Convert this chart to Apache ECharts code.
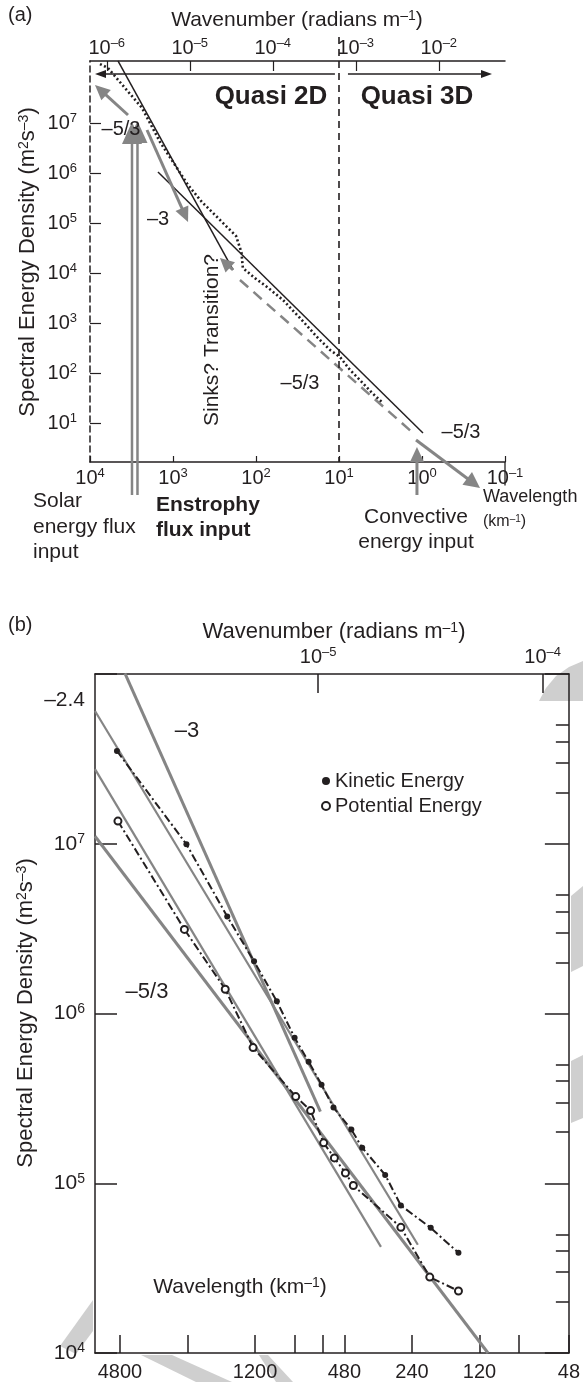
<!DOCTYPE html>
<html>
<head>
<meta charset="utf-8">
<script src="https://cdn.jsdelivr.net/npm/echarts@6.0.0/dist/echarts.min.js"></script>
<style>
  html, body { margin: 0; padding: 0; background: #fff; }
  #chart { width: 583px; height: 1382px; }
</style>
</head>
<body>
<div id="chart"></div>
<script>
// ---- panel (a): measured spectrum (wavelength km, energy m2 s-3)
const aLam = [7586, 6067, 3784, 2360, 1435, 946, 659, 448, 312, 217, 174, 150, 144, 103, 73.6, 47.3, 29.5, 18.4, 12.8, 9.73, 7.36, 5.58, 4.0, 2.95];
const aEnergy = [1.51e8, 1.26e8, 5.0e7, 2.0e7, 4.17e6, 1.45e6, 5.75e5, 2.63e5, 1.45e5, 7.9e4, 5.5e4, 2.6e4, 1.26e4, 7.9e3, 5.25e3, 2.88e3, 1.26e3, 525, 288, 209, 115, 72, 40, 25];
// reference slopes drawn in (a)
const aSteepLam = [4603, 189];
const aSteepE = [1.74e8, 1.15e4];
const aFiveThirdLam = [1517, 0.973];
const aFiveThirdE = [1.05e6, 6.3];
const aDashedLam = [156, 1.28];
const aDashedE = [7244, 6.3];
const aTickExp = [4, 3, 2, 1, 0, -1];
const aTopExp = [-6, -5, -4, -3, -2];
const aLeftExp = [1, 2, 3, 4, 5, 6, 7];

// ---- panel (b): kinetic and potential energy spectra
const bKeLam = [4950, 2427, 1597, 1213, 960, 800, 693, 607, 537, 447, 400, 316, 269, 198, 149];
const bKeE = [3.52e7, 9.93e6, 3.73e6, 2.03e6, 1.18e6, 7.2e5, 5.2e5, 3.81e5, 2.79e5, 2.07e5, 1.62e5, 1.12e5, 7.4e4, 5.46e4, 3.89e4];
const bPeLam = [4900, 2478, 1630, 1225, 791, 679, 594, 532, 475, 438, 269, 200, 149];
const bPeE = [1.36e7, 3.13e6, 1.39e6, 6.3e5, 3.24e5, 2.68e5, 1.73e5, 1.41e5, 1.15e5, 9.7e4, 5.5e4, 2.8e4, 2.32e4];
const bFitSteepLam = [4560, 614];
const bFitSteepE = [1.01e8, 2.64e5];
const bFitLongLam = [6200, 110];
const bFitLongE = [1.107e7, 1e4];
const bFitMidLam = [6200, 330];
const bFitMidE = [2.75e7, 4.22e4];
const bFitKeLam = [6200, 226];
const bFitKeE = [6.05e7, 4.34e4];
const bTickLam = [4800, 2400, 1200, 800, 600, 480, 240, 120, 80, 48];
const bLabelLam = [4800, 1200, 480, 240, 120, 48];
const bMajorExp = [4, 5, 6, 7, 8];
const bLabelExp = [4, 5, 6, 7];
const bMinorE = [2e4, 3e4, 4e4, 5e4, 2e5, 3e5, 4e5, 5e5, 2e6, 3e6, 4e6, 5e6, 2e7, 3e7, 4e7, 5e7];
const bTopExp = [-5, -4];

const FONT = '"Liberation Sans", Arial, sans-serif';
const INK = '#231f20';
const GREY = '#858585';
const LIGHT = '#cfcfcf';
const lg = Math.log10;
const TWO_PI_LOG = lg(2 * Math.PI) - 3; // k (rad/m) = 2pi / (lambda km * 1000)

function pts(lams, es) { return lams.map((l, i) => [lg(l), lg(es[i])]); }
function expText(v) { v = Math.round(v); return v < 0 ? '\u2013' + (-v) : String(v); }
function powLabel(v) { return '{b|10}{s|' + expText(v) + '}'; }
function rich(size, sup) {
  return {
    b: { fontSize: size, fontFamily: FONT, color: INK, lineHeight: size + 2 },
    s: { fontSize: sup, fontFamily: FONT, color: INK, lineHeight: sup, verticalAlign: 'top' }
  };
}

const chart = echarts.init(document.getElementById('chart'));

const frame = { onZero: false, lineStyle: { color: INK, width: 1.5 } };
const noSplit = { show: false };

const option = {
  animation: false,
  backgroundColor: '#fff',
  textStyle: { fontFamily: FONT, color: INK },
  grid: [
    { left: 90, right: 78, top: 61, bottom: 920 },
    { left: 95, right: 11, top: 674, bottom: 29 }
  ],
  legend: {
    orient: 'vertical',
    left: 316,
    top: 766,
    itemWidth: 8,
    itemHeight: 8,
    itemGap: 5,
    textStyle: { fontSize: 20, fontFamily: FONT, color: INK },
    data: [
      { name: 'Kinetic Energy', icon: 'circle' },
      { name: 'Potential Energy', icon: 'emptyCircle' }
    ]
  },
  xAxis: [
    {
      type: 'value', gridIndex: 0, min: -1, max: 4, inverse: true, position: 'bottom',
      axisLine: frame,
      axisTick: { inside: true, length: 6, customValues: aTickExp, lineStyle: { color: INK, width: 1.2 } },
      axisLabel: { customValues: aTickExp, margin: 5, formatter: powLabel, rich: rich(20, 13) },
      splitLine: noSplit
    },
    {
      type: 'value', gridIndex: 0, position: 'top',
      min: TWO_PI_LOG - 4, max: TWO_PI_LOG + 1,
      axisLine: frame,
      axisTick: { inside: true, length: 10, customValues: aTopExp, lineStyle: { color: INK, width: 1.2 } },
      axisLabel: { customValues: aTopExp, margin: 2, formatter: powLabel, rich: rich(20, 13) },
      splitLine: noSplit
    },
    {
      type: 'value', gridIndex: 1, min: lg(48), max: lg(6200), inverse: true, position: 'bottom',
      axisLine: frame,
      axisTick: { inside: true, length: 18, customValues: bTickLam.map(lg), lineStyle: { color: INK, width: 1.5 } },
      axisLabel: {
        customValues: bLabelLam.map(lg), margin: 9, fontSize: 20, fontFamily: FONT, color: INK,
        formatter: v => String(Math.round(Math.pow(10, v)))
      },
      splitLine: noSplit
    },
    {
      type: 'value', gridIndex: 1, position: 'top',
      min: TWO_PI_LOG - lg(6200), max: TWO_PI_LOG - lg(48),
      axisLine: frame,
      axisTick: { inside: true, length: 19, customValues: bTopExp, lineStyle: { color: INK, width: 1.5 } },
      axisLabel: { customValues: bTopExp, margin: 6, formatter: powLabel, rich: rich(20, 13) },
      splitLine: noSplit
    }
  ],
  yAxis: [
    {
      type: 'value', gridIndex: 0, min: 0.22, max: 8.24,
      axisLine: { show: true, onZero: false, lineStyle: { color: INK, width: 1.5, type: [6, 4] } },
      axisTick: { inside: true, length: 11, customValues: aLeftExp, lineStyle: { color: INK, width: 1.2 } },
      axisLabel: { customValues: aLeftExp, margin: 13, formatter: powLabel, rich: rich(20, 13) },
      splitLine: noSplit
    },
    {
      type: 'value', gridIndex: 1, min: 4, max: 8,
      axisLine: { show: true, onZero: false, lineStyle: { color: INK, width: 1.5 } },
      axisTick: { inside: true, length: 22, customValues: bMajorExp, lineStyle: { color: INK, width: 1.5 } },
      axisLabel: { customValues: bLabelExp, margin: 10, formatter: powLabel, rich: rich(21, 14) },
      splitLine: noSplit
    },
    {
      type: 'value', gridIndex: 1, min: 4, max: 8,
      axisLine: { show: false, onZero: false },
      axisTick: { inside: true, length: 13, customValues: bMinorE.map(lg), lineStyle: { color: INK, width: 1.5 } },
      axisLabel: { show: false },
      splitLine: noSplit
    },
    {
      type: 'value', gridIndex: 1, min: 4, max: 8, position: 'right',
      axisLine: { show: true, onZero: false, lineStyle: { color: INK, width: 1.5 } },
      axisTick: { inside: true, length: 24, customValues: bMajorExp, lineStyle: { color: INK, width: 1.5 } },
      axisLabel: { show: false },
      splitLine: noSplit
    },
    {
      type: 'value', gridIndex: 1, min: 4, max: 8, position: 'right',
      axisLine: { show: false, onZero: false },
      axisTick: { inside: true, length: 13, customValues: bMinorE.map(lg), lineStyle: { color: INK, width: 1.5 } },
      axisLabel: { show: false },
      splitLine: noSplit
    }
  ],
  series: [
    {
      name: 'spectrum', type: 'line', xAxisIndex: 0, yAxisIndex: 0, symbol: 'none', z: 4,
      lineStyle: { color: INK, width: 2.6, type: [2, 2.5] },
      data: pts(aLam, aEnergy)
    },
    {
      name: 'slope -3', type: 'line', xAxisIndex: 0, yAxisIndex: 0, symbol: 'none',
      lineStyle: { color: INK, width: 1.5 }, data: pts(aSteepLam, aSteepE)
    },
    {
      name: 'slope -5/3', type: 'line', xAxisIndex: 0, yAxisIndex: 0, symbol: 'none',
      lineStyle: { color: INK, width: 1.5 }, data: pts(aFiveThirdLam, aFiveThirdE)
    },
    {
      name: 'dashed -5/3', type: 'line', xAxisIndex: 0, yAxisIndex: 0, symbol: 'none',
      lineStyle: { color: GREY, width: 2.5, type: [11, 7] }, data: pts(aDashedLam, aDashedE)
    },
    {
      name: 'fit -3', type: 'line', xAxisIndex: 2, yAxisIndex: 1, symbol: 'none',
      lineStyle: { color: GREY, width: 3 }, data: pts(bFitSteepLam, bFitSteepE)
    },
    {
      name: 'fit -5/3', type: 'line', xAxisIndex: 2, yAxisIndex: 1, symbol: 'none',
      lineStyle: { color: GREY, width: 3 }, data: pts(bFitLongLam, bFitLongE)
    },
    {
      name: 'fit PE', type: 'line', xAxisIndex: 2, yAxisIndex: 1, symbol: 'none',
      lineStyle: { color: GREY, width: 2.2 }, data: pts(bFitMidLam, bFitMidE)
    },
    {
      name: 'fit KE', type: 'line', xAxisIndex: 2, yAxisIndex: 1, symbol: 'none',
      lineStyle: { color: GREY, width: 2.2 }, data: pts(bFitKeLam, bFitKeE)
    },
    {
      name: 'Kinetic Energy', type: 'line', xAxisIndex: 2, yAxisIndex: 1, z: 5,
      symbol: 'circle', symbolSize: 6, itemStyle: { color: INK },
      lineStyle: { color: INK, width: 2, type: [8, 3, 2, 3] }, data: pts(bKeLam, bKeE)
    },
    {
      name: 'Potential Energy', type: 'line', xAxisIndex: 2, yAxisIndex: 1, z: 5,
      symbol: 'emptyCircle', symbolSize: 7, itemStyle: { color: INK, borderWidth: 1.6 },
      lineStyle: { color: INK, width: 2, type: [8, 3, 2, 3] }, data: pts(bPeLam, bPeE)
    }
  ]
};

chart.setOption(option);

// ---- annotations: arrows are given in data coordinates [wavelength km, energy]
const annotArrows = [
  { from: [3483, 1.445e7], to: [8710, 5.75e7], color: GREY, width: 3, head: 15, half: 7 },
  { from: [2056, 7.24e6], to: [659, 1.05e5], color: GREY, width: 3, head: 15, half: 7 },
  { from: [189, 1.15e4], to: [272, 2.0e4], color: GREY, width: 3, head: 14, half: 7 },
  { from: [3119, 0.363], to: [3119, 1.05e7], color: GREY, width: 2.5, head: 22, half: 10 },
  { from: [2679, 0.363], to: [2679, 1.1e7], color: GREY, width: 2.5, head: 22, half: 10 },
  { from: [1.15, 0.363], to: [1.15, 3.3], color: GREY, width: 3, head: 15, half: 7 },
  { from: [1.18, 4.57], to: [0.2, 0.5], color: GREY, width: 3, head: 16, half: 8 },
  { from: [11.2, 9.55e7], to: [8710, 9.55e7], color: INK, width: 1.3, head: 11, half: 4 },
  { from: [7.8, 9.55e7], to: [0.1435, 9.55e7], color: INK, width: 1.3, head: 11, half: 4 }
];
const transitionLam = 10;
const transitionE = [5.25e8, Math.pow(10, 0.22)];
const endTickLam = 0.1;
const endTickE = [0.56, Math.pow(10, 0.22)];

const toA = p => chart.convertToPixel({ xAxisIndex: 0, yAxisIndex: 0 }, [lg(p[0]), lg(p[1])]);

function arrowEls(p0, p1, color, lw, headLen, half) {
  const dx = p1[0] - p0[0], dy = p1[1] - p0[1];
  const len = Math.hypot(dx, dy);
  const ux = dx / len, uy = dy / len;
  const bx = p1[0] - ux * headLen, by = p1[1] - uy * headLen;
  return [
    { type: 'line', z: 50, shape: { x1: p0[0], y1: p0[1], x2: bx + ux, y2: by + uy }, style: { stroke: color, lineWidth: lw } },
    { type: 'polygon', z: 50, shape: { points: [[p1[0], p1[1]], [bx - uy * half, by + ux * half], [bx + uy * half, by - ux * half]] }, style: { fill: color } }
  ];
}

function txt(x, y, text, size, opts) {
  opts = opts || {};
  return {
    type: 'text', x: x, y: y, z: 60, rotation: opts.rotation || 0,
    style: {
      text: text, fill: INK, fontSize: size, fontFamily: FONT, fontWeight: opts.bold ? 'bold' : 'normal',
      align: opts.align || 'center', verticalAlign: 'middle',
      rich: { s: { fontSize: Math.round(size * 0.65), fontFamily: FONT, fill: INK, verticalAlign: 'top', lineHeight: Math.round(size * 0.65) } }
    }
  };
}

const graphics = [];
// light grey background shapes peeking around panel (b)
[
  [[539, 701], [546, 688], [556, 676], [569, 667], [583, 661], [583, 701]],
  [[571, 896], [583, 886], [583, 966], [571, 972]],
  [[571, 1061], [583, 1055], [583, 1118], [571, 1123]],
  [[60, 1346], [93, 1300], [93, 1331], [76, 1354]],
  [[141, 1355], [172, 1355], [232, 1382], [196, 1382]],
  [[259, 1355], [268, 1355], [293, 1382], [276, 1382]]
].forEach(p => graphics.push({ type: 'polygon', z: -10, shape: { points: p }, style: { fill: LIGHT } }));

const tTop = toA([transitionLam, transitionE[0]]);
const tBot = toA([transitionLam, transitionE[1]]);
graphics.push({ type: 'line', z: 40, shape: { x1: tTop[0], y1: tTop[1], x2: tBot[0], y2: tBot[1] }, style: { stroke: INK, lineWidth: 1.6, lineDash: [7, 5] } });
const eTop = toA([endTickLam, endTickE[0]]);
const eBot = toA([endTickLam, endTickE[1]]);
graphics.push({ type: 'line', z: 40, shape: { x1: eTop[0], y1: eTop[1], x2: eBot[0], y2: eBot[1] }, style: { stroke: INK, lineWidth: 1.3 } });
annotArrows.forEach(a => { graphics.push.apply(graphics, arrowEls(toA(a.from), toA(a.to), a.color, a.width, a.head, a.half)); });

// panel (a) texts
graphics.push(
  txt(8, 15, '(a)', 20, { align: 'left' }),
  txt(297, 20, 'Wavenumber (radians m{s|\u20131})', 21),
  txt(271, 97, 'Quasi 2D', 26, { bold: true }),
  txt(417, 97, 'Quasi 3D', 26, { bold: true }),
  txt(121, 129, '\u20135/3', 20),
  txt(158, 219, '\u20133', 20),
  txt(212, 340, 'Sinks? Transition?', 21, { rotation: Math.PI / 2 }),
  txt(300, 383, '\u20135/3', 20),
  txt(461, 432, '\u20135/3', 20),
  txt(28, 262, 'Spectral Energy Density (m{s|2}s{s|\u20133})', 22, { rotation: Math.PI / 2 }),
  txt(33, 501, 'Solar', 21, { align: 'left' }),
  txt(33, 527, 'energy flux', 21, { align: 'left' }),
  txt(33, 552, 'input', 21, { align: 'left' }),
  txt(156, 505, 'Enstrophy', 21, { align: 'left', bold: true }),
  txt(156, 530, 'flux input', 21, { align: 'left', bold: true }),
  txt(416, 517, 'Convective', 21),
  txt(416, 542, 'energy input', 21),
  txt(483, 497, 'Wavelength', 18, { align: 'left' }),
  txt(483, 522, '(km{s|\u20131})', 16, { align: 'left' })
);
// panel (b) texts
graphics.push(
  txt(8, 625, '(b)', 20, { align: 'left' }),
  txt(334, 632, 'Wavenumber (radians m{s|\u20131})', 22),
  txt(85, 700, '\u20132.4', 21, { align: 'right' }),
  txt(187, 731, '\u20133', 22),
  txt(147, 992, '\u20135/3', 22),
  txt(240, 1287, 'Wavelength (km{s|\u20131})', 21),
  txt(26, 1013, 'Spectral Energy Density (m{s|2}s{s|\u20133})', 22, { rotation: Math.PI / 2 })
);

chart.setOption({ graphic: graphics });
</script>
</body>
</html>
